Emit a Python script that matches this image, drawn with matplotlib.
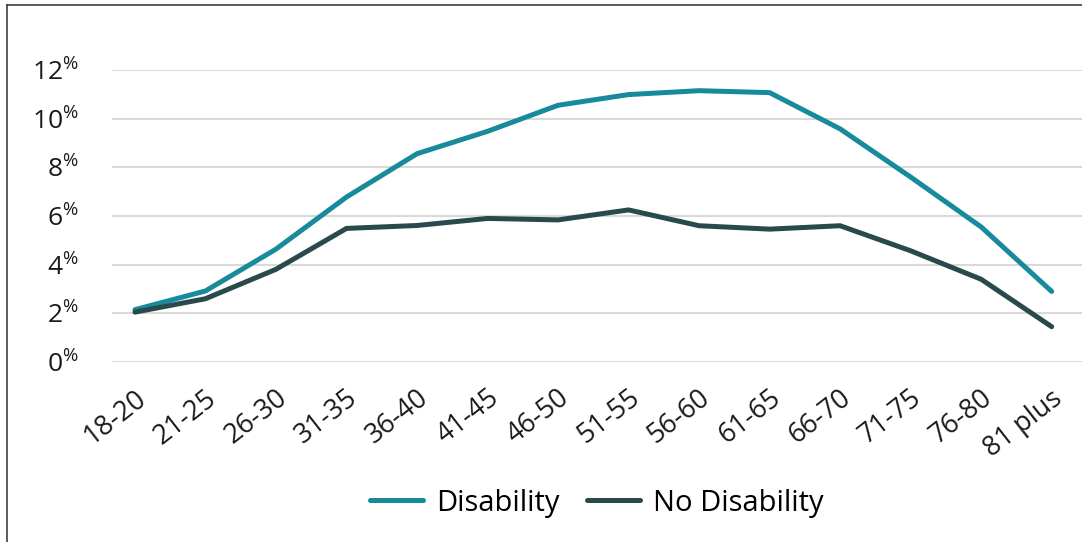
import matplotlib
matplotlib.use("Agg")
import matplotlib.pyplot as plt
import matplotlib.transforms as mtransforms
from matplotlib.lines import Line2D

plt.rcParams['font.family'] = ['Open Sans', 'DejaVu Sans']
plt.rcParams['mathtext.fontset'] = 'custom'
plt.rcParams['mathtext.rm'] = 'Open Sans'
plt.rcParams['mathtext.it'] = 'Open Sans'
plt.rcParams['mathtext.default'] = 'regular'

# age groups and percentages
age_groups = ['18-20', '21-25', '26-30', '31-35', '36-40', '41-45', '46-50',
              '51-55', '56-60', '61-65', '66-70', '71-75', '76-80', '81 plus']
disability = [2.15, 2.92, 4.64, 6.78, 8.56, 9.48, 10.55,
              10.99, 11.15, 11.07, 9.58, 7.6, 5.55, 2.9]
no_disability = [2.05, 2.6, 3.81, 5.49, 5.61, 5.9, 5.84,
                 6.25, 5.6, 5.46, 5.6, 4.57, 3.4, 1.45]
y_ticks = [0, 2, 4, 6, 8, 10, 12]

teal = '#178A9B'
dark = '#284A4D'

fig = plt.figure(figsize=(10.82, 5.42), dpi=100)
ax = fig.add_axes([112 / 1082, 180 / 542, 970 / 1082, 292 / 542])

x = list(range(len(age_groups)))
ax.plot(x, disability, color=teal, lw=3.6, solid_capstyle='round',
        solid_joinstyle='round', label='Disability', zorder=3)
ax.plot(x, no_disability, color=dark, lw=3.6, solid_capstyle='round',
        solid_joinstyle='round', label='No Disability', zorder=3)

ax.set_xlim(-0.326, 13.43)
ax.set_ylim(0, 12)
ax.set_yticks(y_ticks)
ax.set_yticklabels([r'$%d^{\%%}$' % v for v in y_ticks])
ax.yaxis.grid(True, color='#D9D9D9', lw=1.5)
ax.set_axisbelow(True)
for s in ax.spines.values():
    s.set_visible(False)
ax.tick_params(axis='y', length=0, pad=24, labelsize=19, labelcolor='#1a1a1a')

ax.set_xticks(x)
ax.set_xticklabels(age_groups, rotation=38, ha='right', va='center',
                   rotation_mode='anchor')
ax.tick_params(axis='x', length=0, pad=24, labelsize=19.5, labelcolor='#1a1a1a')
offset = mtransforms.ScaledTranslation(8 / 100, 0, fig.dpi_scale_trans)
for lab in ax.get_xticklabels():
    lab.set_transform(lab.get_transform() + offset)

ax.legend(loc='center', bbox_to_anchor=(0.5, -0.483), ncol=2, frameon=False,
          fontsize=21, handlelength=1.8, handletextpad=0.45, columnspacing=0.96)

# chart border (top and left edges visible)
fig.add_artist(Line2D([7 / 1082, 1], [1 - 5 / 542, 1 - 5 / 542],
                      transform=fig.transFigure, color='#404040', lw=1.2))
fig.add_artist(Line2D([7 / 1082, 7 / 1082], [0, 1 - 5 / 542],
                      transform=fig.transFigure, color='#404040', lw=1.2))

fig.savefig('out.png', dpi=100)
